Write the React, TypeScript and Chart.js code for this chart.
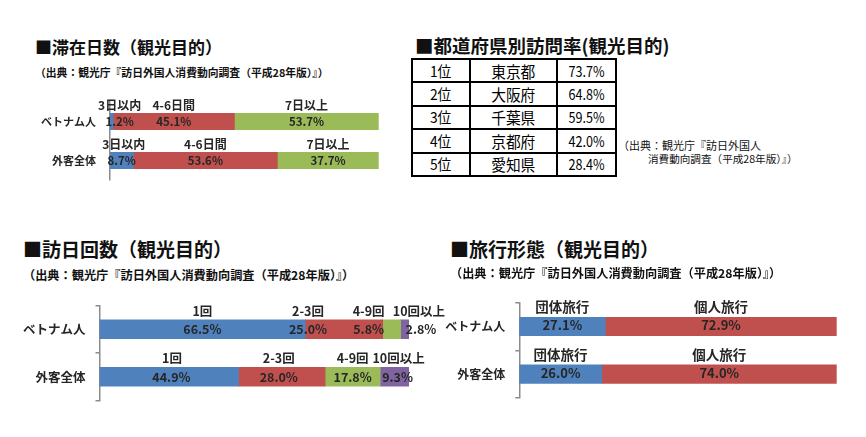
import React, { useEffect, useRef } from 'react';
import { Chart, registerables } from 'chart.js';

Chart.register(...registerables);

// ---------- data ----------
const stayRows = ['ベトナム人', '外客全体'];
const staySeries = ['3日以内', '4-6日間', '7日以上'];
const stayShort = [1.2, 8.7];
const stayMid = [45.1, 53.6];
const stayLong = [53.7, 37.7];

const prefRanks = ['1位', '2位', '3位', '4位', '5位'];
const prefNames = ['東京都', '大阪府', '千葉県', '京都府', '愛知県'];
const prefRates = [73.7, 64.8, 59.5, 42.0, 28.4];

const visitRows = ['ベトナム人', '外客全体'];
const visitSeries = ['1回', '2-3回', '4-9回', '10回以上'];
const visitOnce = [66.5, 44.9];
const visit2to3 = [25.0, 28.0];
const visit4to9 = [5.8, 17.8];
const visit10plus = [2.8, 9.3];

const tripRows = ['ベトナム人', '外客全体'];
const tripSeries = ['団体旅行', '個人旅行'];
const tripGroup = [27.1, 26.0];
const tripIndividual = [72.9, 74.0];

const SOURCE = '（出典：観光庁『訪日外国人消費動向調査（平成28年版）』）';

// ---------- styles ----------
const FONT = "'Noto Sans CJK JP', 'Noto Sans', sans-serif";
const BLUE = '#4F81BD';
const RED = '#C0504D';
const GREEN = '#9BBB59';
const PURPLE = '#8064A2';
const AXIS = '#8c8c8c';
const TEXT = '#262626';

const segLabels = {
  id: 'segLabels',
  afterDatasetsDraw(chart: any, _args: any, opts: any) {
    const ctx = chart.ctx;
    chart.data.datasets.forEach((ds: any, di: number) => {
      const meta = chart.getDatasetMeta(di);
      meta.data.forEach((bar: any, ri: number) => {
        const p = bar.getProps(['x', 'base', 'y', 'height'], true);
        const cx = (p.x + p.base) / 2;
        const top = p.y - p.height / 2;
        const tn = opts.topNudge?.[di]?.[ri] ?? 0;
        const vn = opts.valNudge?.[di]?.[ri] ?? 0;
        ctx.save();
        ctx.fillStyle = TEXT;
        ctx.textAlign = 'center';
        ctx.textBaseline = 'middle';
        ctx.font = `bold ${opts.topSize}px ${FONT}`;
        ctx.fillText(ds.label, cx + tn, top - opts.topGap);
        ctx.font = `bold ${opts.valSize}px ${FONT}`;
        ctx.fillText(Number(ds.data[ri]).toFixed(1) + '%', cx + vn, p.y + (opts.valDy ?? 0));
        ctx.restore();
      });
    });
  },
};

type PanelProps = {
  left: number; top: number; width: number; height: number;
  rows: string[]; series: string[]; values: number[][]; colors: string[];
  yWidth: number; padT: number; padR: number; padB: number; thickness: number;
  tickSize: number; topSize: number; valSize: number; topGap: number; valDy?: number;
  topNudge?: number[][]; valNudge?: number[][]; bottomTickOnly?: boolean;
};

function BarPanel(props: PanelProps) {
  const ref = useRef<HTMLCanvasElement | null>(null);
  useEffect(() => {
    if (!ref.current) return;
    const chart = new Chart(ref.current, {
      type: 'bar',
      data: {
        labels: props.rows,
        datasets: props.series.map((name, i) => ({
          label: name,
          data: props.values[i],
          backgroundColor: props.colors[i],
          borderWidth: 0,
          barThickness: props.thickness,
        })),
      },
      options: {
        indexAxis: 'y',
        responsive: false,
        maintainAspectRatio: false,
        animation: false,
        layout: { padding: { left: 0, top: props.padT, right: props.padR, bottom: props.padB } },
        plugins: {
          legend: { display: false },
          tooltip: { enabled: false },
          segLabels: {
            topSize: props.topSize, valSize: props.valSize, topGap: props.topGap,
            valDy: props.valDy ?? 0, topNudge: props.topNudge, valNudge: props.valNudge,
          },
        } as any,
        scales: {
          x: { stacked: true, min: 0, max: 100, display: false },
          y: {
            stacked: true,
            offset: true,
            grid: {
              display: true,
              offset: true,
              drawOnChartArea: false,
              drawTicks: true,
              tickLength: 4,
              lineWidth: 1.5,
              color: (c: any) => (props.bottomTickOnly && c.index !== props.rows.length ? 'rgba(0,0,0,0)' : AXIS),
            },
            border: { display: true, color: AXIS, width: 1.5 },
            ticks: { padding: 10, color: TEXT, font: { family: FONT, size: props.tickSize, weight: 'bold' } },
            afterFit: (s: any) => {
              s.width = props.yWidth;
              s.paddingTop = 0;
              s.paddingBottom = 0;
            },
          },
        },
      },
      plugins: [segLabels as any],
    });
    return () => chart.destroy();
  }, []);
  return (
    <canvas
      ref={ref}
      width={props.width}
      height={props.height}
      style={{ position: 'absolute', left: props.left, top: props.top, width: props.width, height: props.height, display: 'block' }}
    />
  );
}

function Txt(p: { x: number; y: number; size: number; bold?: boolean; ls?: number; children: React.ReactNode }) {
  return (
    <div
      style={{
        position: 'absolute', left: p.x, top: p.y - p.size / 2, height: p.size, lineHeight: `${p.size}px`,
        fontSize: p.size, fontFamily: FONT, fontWeight: p.bold ? 'bold' : 'normal', color: '#111',
        whiteSpace: 'nowrap', letterSpacing: p.ls ?? 0,
      }}
    >
      {p.children}
    </div>
  );
}

function PrefTable() {
  const cell: React.CSSProperties = {
    border: '2px solid #000', padding: 0, textAlign: 'center', height: 21.4,
    fontFamily: FONT, fontSize: 15, color: '#000', lineHeight: '20px', overflow: 'hidden',
  };
  const narrow: React.CSSProperties = { display: 'inline-block', transform: 'scaleX(0.84)' };
  return (
    <table
      style={{
        position: 'absolute', left: 411, top: 58, width: 204, borderCollapse: 'collapse', tableLayout: 'fixed',
      }}
    >
      <colgroup>
        <col style={{ width: 58 }} />
        <col style={{ width: 87 }} />
        <col style={{ width: 59 }} />
      </colgroup>
      <tbody>
        {prefRanks.map((r, i) => (
          <tr key={r}>
            <td style={cell}><span style={{ ...narrow, transform: 'scaleX(0.92)' }}>{r}</span></td>
            <td style={{ ...cell, fontSize: 15.5 }}><span style={{ ...narrow, transform: 'scaleX(0.95)' }}>{prefNames[i]}</span></td>
            <td style={cell}><span style={narrow}>{prefRates[i].toFixed(1)}%</span></td>
          </tr>
        ))}
      </tbody>
    </table>
  );
}

export default function App() {
  return (
    <div style={{ position: 'absolute', left: 0, top: 0, width: 866, height: 437, background: '#fff', overflow: 'hidden' }}>
      {/* 滞在日数 */}
      <Txt x={35} y={46.5} size={17} bold>■滞在日数（観光目的）</Txt>
      <Txt x={35} y={72.5} size={10.8} bold>{SOURCE}</Txt>
      <BarPanel
        left={0} top={88} width={400} height={100}
        rows={stayRows} series={staySeries} values={[stayShort, stayMid, stayLong]} colors={[BLUE, RED, GREEN]}
        yWidth={110} padT={14} padR={21.3} padB={8} thickness={16.5}
        tickSize={11} topSize={12} valSize={11.5} topGap={7.5}
        topNudge={[[8, 2], [0, 0], [0, 0]]} valNudge={[[8, 0], [0, 0], [0, 0]]} bottomTickOnly
      />

      {/* 都道府県別訪問率 */}
      <Txt x={415} y={45} size={18.5} bold>■都道府県別訪問率(観光目的)</Txt>
      <PrefTable />
      <Txt x={618} y={145} size={11}>（出典：観光庁『訪日外国人</Txt>
      <Txt x={648} y={159} size={10.6}>消費動向調査（平成28年版）』）</Txt>

      {/* 訪日回数 */}
      <Txt x={23} y={248} size={19} bold>■訪日回数（観光目的）</Txt>
      <Txt x={23} y={275} size={12.2} bold>{SOURCE}</Txt>
      <BarPanel
        left={0} top={290} width={470} height={120}
        rows={visitRows} series={visitSeries} values={[visitOnce, visit2to3, visit4to9, visit10plus]}
        colors={[BLUE, RED, GREEN, PURPLE]}
        yWidth={99.5} padT={15.5} padR={61} padB={9.5} thickness={19}
        tickSize={12.5} topSize={12.5} valSize={12.5} topGap={9}
        topNudge={[[0, 3], [-36, -3], [-23, 0], [14, 4]]} valNudge={[[0, 2.5], [-36, -3], [-23, 0], [16, 3]]}
      />

      {/* 旅行形態 */}
      <Txt x={450} y={248} size={19} bold>■旅行形態（観光目的）</Txt>
      <Txt x={450} y={273} size={12.2} bold>{SOURCE}</Txt>
      <BarPanel
        left={430} top={290} width={436} height={120}
        rows={tripRows} series={tripSeries} values={[tripGroup, tripIndividual]} colors={[BLUE, RED]}
        yWidth={89.3} padT={12.7} padR={29.3} padB={12} thickness={18.5}
        tickSize={12} topSize={13.5} valSize={13} topGap={10} valDy={-1}
      />
    </div>
  );
}
